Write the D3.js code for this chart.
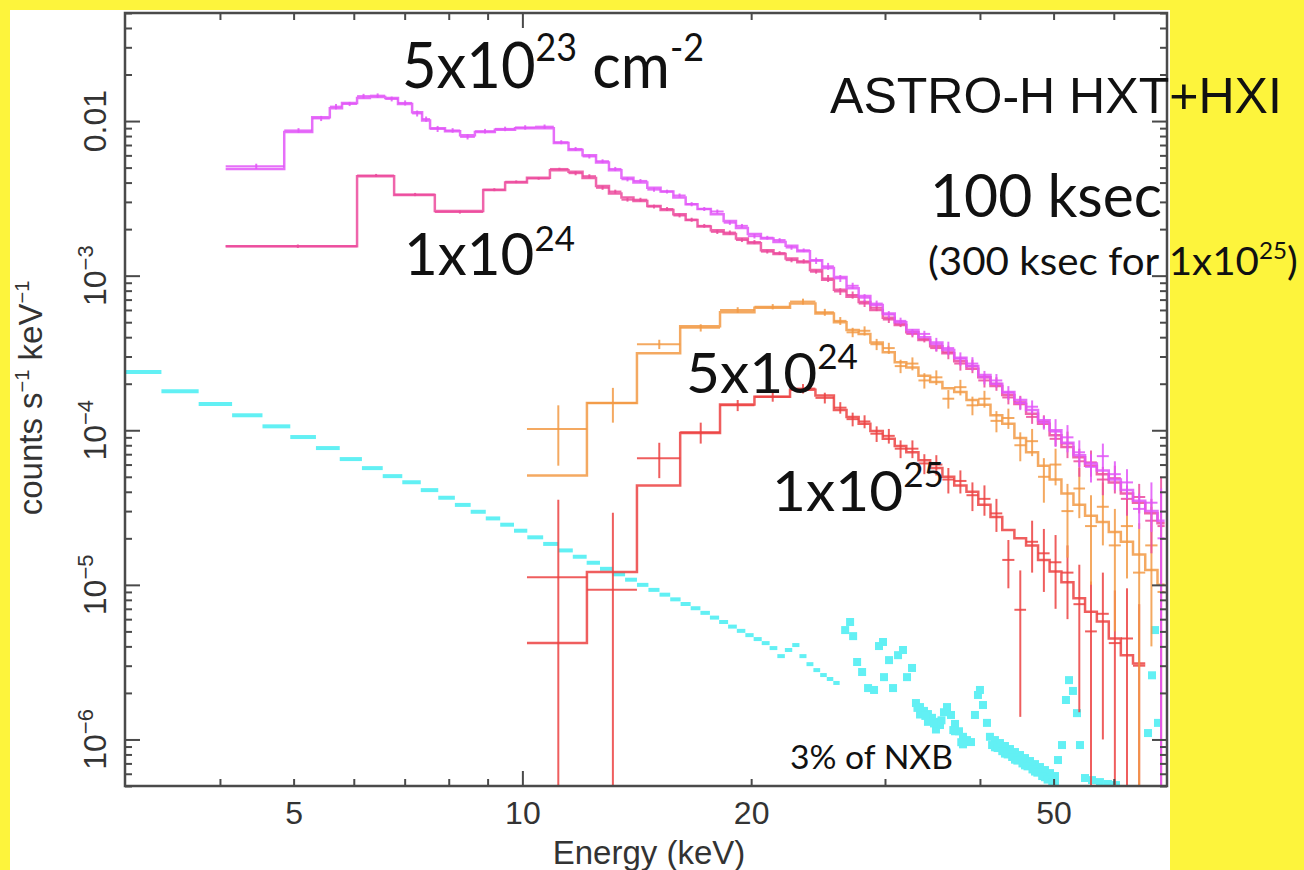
<!DOCTYPE html>
<html>
<head>
<meta charset="utf-8">
<script src="https://cdn.jsdelivr.net/npm/d3@7"></script>
<style>
  body { margin: 0; background: #fdf43c; }
  svg { display: block; }
</style>
</head>
<body>
<svg id="chart" width="1304" height="870"></svg>
<script>
// ---- data (energy in keV, rate in counts/s/keV) ----
var magEdges = [4.07, 4.86, 5.29, 5.58, 5.79, 6.06, 6.30, 6.60, 6.86, 7.16, 7.38, 7.56, 7.91, 8.28, 8.66, 9.20, 9.78, 10.39, 11.0,
  11.5, 12.0, 12.5, 13.0, 13.5, 14.0, 14.6, 15.2, 15.8, 16.4, 17.0, 17.7, 18.4, 19.1, 19.8, 20.6, 21.4, 22.2, 23.0, 23.9, 24.8,
  25.7, 26.7, 27.7, 28.7, 29.8, 30.9, 32.0, 33.2, 34.4, 35.7, 37.0, 38.4, 39.8, 41.3, 42.8, 44.4, 46.0, 47.7, 49.4, 51.2, 53.1,
  55.0, 57.0, 59.1, 61.3, 63.6, 66.0, 68.5, 70.0];
var magModel = [0.0049, 0.0085, 0.0106, 0.0121, 0.0131, 0.0141, 0.0143, 0.0141, 0.0129, 0.0114, 0.0101, 0.0090, 0.0086, 0.0081, 0.0085, 0.0088, 0.0090, 0.0090,
  0.0072, 0.0065, 0.0060, 0.0054, 0.0048, 0.0043, 0.0040, 0.0037, 0.0035, 0.0032, 0.0029, 0.0027, 0.0025, 0.00226, 0.00203, 0.00186, 0.00174, 0.00165, 0.00156, 0.00144,
  0.00126, 0.00112, 0.00098, 0.00083, 0.00074, 0.000645, 0.00057, 0.00050, 0.000445, 0.00040, 0.00037, 0.00033, 0.000295, 0.00026, 0.000228, 0.00020, 0.000177, 0.000157,
  0.000135, 0.000116, 0.000100, 0.000083, 0.000069, 0.000061, 0.000055, 0.000048, 0.000041, 0.000035, 0.000030, 0.000026];
var magData = [0.0051, 0.0087, 0.0104, 0.0124, 0.0129, 0.0145, 0.0146, 0.0139, 0.0131, 0.0112, 0.0103, 0.0089, 0.0087, 0.0079, 0.0086, 0.0089, 0.0091, 0.0092,
  0.0073, 0.0066, 0.0059, 0.0055, 0.0049, 0.0042, 0.0041, 0.0036, 0.0035, 0.0033, 0.0029, 0.0027, 0.0026, 0.0022, 0.0021, 0.0018, 0.00176, 0.00170, 0.00152, 0.00146,
  0.00125, 0.00115, 0.00096, 0.00086, 0.00072, 0.00066, 0.00056, 0.00051, 0.00043, 0.00042, 0.00036, 0.00034, 0.00029, 0.00027, 0.00022, 0.00021, 0.000175, 0.000150,
  0.000142, 0.000112, 0.000098, 0.000090, 0.000072, 0.000058, 0.000068, 0.000052, 0.000046, 0.000031, 0.000034, 0.000020];
var magErr = [0.0002, 0.0003, 0.0004, 0.0005, 0.0004, 0.0005, 0.0005, 0.0005, 0.0005, 0.0005, 0.0004, 0.0004, 0.0003, 0.0003, 0.0003, 0.0003, 0.0003, 0.0003,
  0.00022, 0.0002, 0.00018, 0.00016, 0.00015, 0.00013, 0.00012, 0.00011, 0.0001, 0.0001, 0.00009, 0.00008, 0.00008, 0.00007, 0.00006, 0.00006, 0.00005, 0.00005, 0.00005, 0.00004,
  0.00006, 0.00006, 0.00005, 0.00004, 0.00004, 0.00003, 0.00003, 0.000025, 0.000022, 0.00002, 0.000036, 0.000034, 0.000029, 0.000027, 0.000022, 0.000021, 0.000018, 0.000015,
  0.000014, 0.000011, 0.00002, 0.000018, 0.000014, 0.000012, 0.000014, 0.000011, 0.00001, 0.000008, 0.000012, 0.000022];

var pinkEdges = [4.07, 6.06, 6.78, 7.67, 8.88, 9.49, 10.14, 10.87, 11.5, 12.0, 12.5, 13.0, 13.5, 14.0, 14.6, 15.2, 15.8, 16.4, 17.0,
  17.7, 18.4, 19.1, 19.8, 20.6, 21.4, 22.2, 23.0, 23.9, 24.8, 25.7, 26.7, 27.7, 28.7, 29.8, 30.9, 32.0, 33.2, 34.4, 35.7, 37.0,
  38.4, 39.8, 41.3, 42.8, 44.4, 46.0, 47.7, 49.4, 51.2, 53.1, 55.0, 57.0, 59.1, 61.3, 63.6, 66.0, 68.5, 70.0];
var pinkModel = [0.00155, 0.00440, 0.00332, 0.00262, 0.00358, 0.0040, 0.0043, 0.0048,
  0.0047, 0.00428, 0.0038, 0.0034, 0.0032, 0.00304, 0.00282, 0.00266, 0.0025, 0.00229, 0.00208, 0.00197, 0.00186, 0.00174, 0.00162, 0.00146,
  0.00138, 0.00129, 0.00122, 0.00109, 0.00094, 0.00081, 0.00073, 0.000675, 0.0006, 0.000535, 0.00048, 0.00043, 0.000383, 0.00035, 0.000315,
  0.00028, 0.00025, 0.00022, 0.000193, 0.000169, 0.000148, 0.000128, 0.00011, 0.000093, 0.000078, 0.000067, 0.000059, 0.000052, 0.000046,
  0.000039, 0.000034, 0.000029, 0.000025];
var pinkData = [0.00155, 0.00445, 0.00335, 0.00258, 0.0036, 0.00405, 0.00425, 0.0049,
  0.0046, 0.0044, 0.0037, 0.0035, 0.0031, 0.0031, 0.0028, 0.0027, 0.00245, 0.0023, 0.0021, 0.00192, 0.0019, 0.0017, 0.00165, 0.00143,
  0.0014, 0.00126, 0.00124, 0.00106, 0.00096, 0.00079, 0.00075, 0.00066, 0.00062, 0.00052, 0.00049, 0.00042, 0.00039, 0.00034, 0.00032,
  0.00027, 0.00026, 0.00021, 0.0002, 0.000163, 0.000152, 0.000122, 0.000114, 0.000088, 0.000082, 0.000063, 0.000062, 0.000048, 0.000049,
  0.000036, 0.000037, 0.000026, 0.000024];
var pinkErr = [0.00004, 0.0001, 0.00008, 0.00006, 0.00008, 0.00008, 0.00008, 0.00009,
  0.00014, 0.00013, 0.00011, 0.0001, 0.00009, 0.00009, 0.00008, 0.00008, 0.00007, 0.00007, 0.00006, 0.00006, 0.00006, 0.00005, 0.00005, 0.00004,
  0.00004, 0.00004, 0.00004, 0.00003, 0.00005, 0.00004, 0.00004, 0.000033, 0.00003, 0.000026, 0.000025, 0.000021, 0.00002, 0.000017, 0.000032,
  0.000027, 0.000026, 0.000021, 0.00002, 0.000016, 0.000015, 0.000012, 0.000011, 0.000009, 0.000016, 0.000013, 0.000012, 0.00001, 0.00001,
  0.000008, 0.000008, 0.00001, 0.000026];

var orangeEdges = [10.14, 12.16, 14.15, 16.13, 18.2, 20.2, 22.5, 24.3, 25.7, 26.7, 27.7, 28.7, 29.8, 30.9, 32.0, 33.2, 34.4, 35.7, 37.0,
  38.4, 39.8, 41.3, 42.8, 44.4, 46.0, 47.7, 49.4, 51.2, 53.1, 55.0, 57.0, 59.1, 61.3, 63.6, 66.0, 68.5, 70.0];
var orangeModel = [5.1e-5, 1.5e-4, 3.15e-4, 4.7e-4, 5.8e-4, 6.2e-4, 6.6e-4, 5.7e-4,
  5.0e-4, 4.45e-4, 4.2e-4, 3.7e-4, 3.2e-4, 2.75e-4, 2.55e-4, 2.25e-4, 2.05e-4, 1.87e-4, 1.77e-4, 1.57e-4, 1.46e-4, 1.25e-4,
  1.1e-4, 8.9e-5, 7.2e-5, 5.9e-5, 4.8e-5, 3.9e-5, 3.3e-5, 2.8e-5, 2.55e-5, 2.2e-5, 1.9e-5, 1.57e-5, 1.25e-5, 1.0e-5];
var orangeData = [1.02e-4, 1.5e-4, 3.6e-4, 4.6e-4, 6.0e-4, 6.3e-4, 6.8e-4, 5.8e-4,
  5.1e-4, 4.3e-4, 4.4e-4, 3.6e-4, 3.4e-4, 2.6e-4, 2.7e-4, 2.1e-4, 2.2e-4, 1.6e-4, 1.9e-4, 1.45e-4, 1.6e-4, 1.15e-4,
  1.2e-4, 8.0e-5, 8.5e-5, 5.0e-5, 6.0e-5, 3.0e-5, 4.2e-5, 2.4e-5, 3.2e-5, 1.8e-5, 2.4e-5, 1.2e-5, 1.8e-5, 9e-6];
var orangeErr = [4.3e-5, 3.8e-5, 2.5e-5, 2.5e-5, 2.5e-5, 2.5e-5, 3.0e-5, 3.0e-5,
  3e-5, 3e-5, 3e-5, 3e-5, 2.8e-5, 2.6e-5, 2.6e-5, 2.4e-5, 2.4e-5, 2.2e-5, 2.2e-5, 2.0e-5, 2.0e-5, 1.8e-5,
  1.8e-5, 1.7e-5, 1.7e-5, 1.6e-5, 1.6e-5, 1.5e-5, 1.5e-5, 1.4e-5, 1.4e-5, 1.3e-5, 1.3e-5, 1.3e-5, 1.4e-5, 1.5e-5];

var redEdges = [10.14, 12.16, 14.15, 16.13, 18.2, 20.2, 22.5, 24.3, 25.7, 26.7, 27.7, 28.7, 29.8, 30.9, 32.0, 33.2, 34.4, 35.7, 37.0,
  38.4, 39.8, 41.3, 42.8, 44.4, 46.0, 47.7, 49.4, 51.2, 53.1, 55.0, 57.0, 59.1, 61.3, 63.6, 66.0];
var redModel = [4.2e-6, 1.21e-5, 4.4e-5, 9.6e-5, 1.47e-4, 1.65e-4, 1.83e-4, 1.68e-4,
  1.35e-4, 1.22e-4, 1.1e-4, 9.9e-5, 8.8e-5, 7.9e-5, 7.2e-5, 6.4e-5, 5.7e-5, 5.0e-5, 4.4e-5, 4.0e-5, 3.3e-5,
  2.75e-5, 2.26e-5, 2.0e-5, 1.8e-5, 1.45e-5, 1.22e-5, 1.04e-5, 8.2e-6, 6.7e-6, 5.8e-6, 4.5e-6, 3.5e-6, 3.1e-6];
var redData = [1.12e-5, 9.3e-6, 6.6e-5, 9.7e-5, 1.45e-4, 1.65e-4, 1.86e-4, 1.62e-4,
  1.40e-4, 1.18e-4, 1.14e-4, 9.5e-5, 9.2e-5, 7.6e-5, 7.6e-5, 6.1e-5, 6.0e-5, 4.8e-5, 4.7e-5, 3.8e-5, 3.6e-5,
  2.9e-5, 1.45e-5, 6.9e-6, 1.9e-5, 1.6e-5, 1.4e-5, 1.2e-5, 7.5e-6, 5e-6, 6.5e-6, 4.2e-6, 4.5e-6, 3.0e-6];
var redErr = [2.43e-5, 2.0e-5, 1.7e-5, 1.5e-5, 1.2e-5, 1.2e-5, 1.3e-5, 1.3e-5,
  1.2e-5, 1.2e-5, 1.1e-5, 1.1e-5, 1.0e-5, 1.0e-5, 1.0e-5, 9e-6, 9e-6, 9e-6, 8e-6, 8e-6, 8e-6,
  7e-6, 5e-6, 5.5e-6, 7e-6, 7e-6, 7e-6, 6e-6, 6e-6, 5.5e-6, 5.5e-6, 5e-6, 5e-6, 4.5e-6];

// 3% of NXB
var nxbEdges = [2.95, 3.35, 3.75, 4.15, 4.55, 4.95, 5.35, 5.75, 6.15, 6.55, 6.95, 7.35, 7.75, 8.15, 8.55, 8.95, 9.35, 9.75, 10.15,
  10.65, 11.15, 11.65, 12.15, 12.65, 13.15, 13.65, 14.15, 14.65, 15.15, 15.65, 16.15, 16.65, 17.15, 17.65, 18.15, 18.65, 19.15,
  19.65, 20.15, 20.65, 21.15, 21.65, 22.15, 22.65, 23.15, 23.65, 24.15, 24.65, 25.15, 25.65, 26.15];
var nxbRate = [2.38e-4, 1.79e-4, 1.48e-4, 1.25e-4, 1.06e-4, 9.04e-5, 7.67e-5, 6.51e-5, 5.69e-5, 5.05e-5, 4.61e-5, 4.10e-5, 3.66e-5,
  3.29e-5, 2.97e-5, 2.69e-5, 2.45e-5, 2.24e-5, 2.03e-5, 1.84e-5, 1.67e-5, 1.52e-5, 1.39e-5, 1.27e-5, 1.17e-5, 1.08e-5, 1.00e-5,
  9.28e-6, 8.64e-6, 8.06e-6, 7.52e-6, 7.06e-6, 6.59e-6, 6.14e-6, 5.75e-6, 5.37e-6, 5.04e-6, 4.73e-6, 4.46e-6, 4.20e-6, 3.90e-6,
  3.46e-6, 3.79e-6, 4.08e-6, 3.46e-6, 3.07e-6, 2.81e-6, 2.61e-6, 2.46e-6, 2.32e-6];
var nxbTailE = [26.59, 26.99, 27.24, 27.57, 27.99, 28.50, 29.02, 29.46, 29.82, 29.91, 30.37, 30.74, 31.21, 31.68, 32.07, 32.56,
  32.95, 33.36, 33.76, 34.17, 34.59, 35.01, 35.44, 35.87, 36.20, 36.64, 37.09, 37.54, 38.00, 38.46, 38.93, 39.40, 39.76, 40.00,
  40.37, 40.86, 41.23, 41.86, 42.50, 43.15, 43.81, 44.48, 45.16, 45.85, 46.55, 47.26, 47.98, 48.71, 49.46, 50.21, 50.67, 51.29,
  51.91, 52.39, 53.02, 53.67, 54.16, 54.99, 56.17, 57.54, 58.95, 60.40, 66.56, 67.37, 67.98, 68.60,
  33.36, 34.17, 35.01, 37.09, 38.00, 41.86, 43.15, 44.48, 45.85, 47.26, 48.71, 50.21,
  33.1, 33.9, 34.8, 35.6, 36.9, 37.8, 41.5, 42.2, 42.8, 43.5, 44.1, 44.8, 45.5, 46.2, 46.9, 47.6, 48.3, 49.1, 49.8];
var nxbTailRate = [5.10e-6, 5.75e-6, 4.66e-6, 3.17e-6, 2.73e-6, 2.15e-6, 2.09e-6, 4.02e-6, 4.27e-6, 2.53e-6, 3.26e-6, 2.15e-6,
  3.51e-6, 3.79e-6, 2.53e-6, 2.90e-6, 1.72e-6, 1.62e-6, 1.53e-6, 1.46e-6, 1.38e-6, 1.30e-6, 1.24e-6, 1.50e-6, 1.62e-6, 1.44e-6,
  1.26e-6, 1.13e-6, 1.04e-6, 9.91e-7, 9.62e-7, 1.44e-6, 1.94e-6, 2.09e-6, 1.67e-6, 1.28e-6, 1.04e-6, 9.91e-7, 9.48e-7, 9.07e-7,
  8.67e-7, 8.29e-7, 7.93e-7, 7.58e-7, 7.25e-7, 6.93e-7, 6.63e-7, 6.34e-7, 6.06e-7, 5.80e-7, 7.36e-7, 9.20e-7, 1.80e-6, 2.42e-6,
  2.06e-6, 1.48e-6, 9.20e-7, 5.63e-7, 5.46e-7, 5.30e-7, 5.15e-7, 5.07e-7, 1.10e-6, 2.60e-6, 5.10e-6, 1.28e-6,
  1.45e-6, 1.30e-6, 1.16e-6, 1.13e-6, 9.3e-7, 8.9e-7, 8.1e-7, 7.4e-7, 6.8e-7, 6.2e-7, 5.7e-7, 5.3e-7,
  1.60e-6, 1.42e-6, 1.27e-6, 1.33e-6, 1.15e-6, 9.6e-7, 9.2e-7, 8.8e-7, 8.4e-7, 8.0e-7, 7.7e-7, 7.3e-7, 7.0e-7, 6.7e-7, 6.4e-7,
  6.1e-7, 5.8e-7, 5.5e-7, 5.3e-7];

// ticks
var xMinorTicks = [4, 5, 6, 7, 8, 9, 20, 30, 40, 50, 60];
var xMajorTicks = [10];
var xLabelTicks = [5, 10, 20, 50];
var yMajorTicks = [1e-6, 1e-5, 1e-4, 1e-3, 0.01];
var yLabelBase = ["10", "10", "10", "10", "0.01"];
var yLabelExp = ["\u22126", "\u22125", "\u22124", "\u22123", ""];

(function () {
  // ---- layout ----
  var width = 1304, height = 870;
  var pLeft = 125, pRight = 1167, pTop = 13, pBottom = 786;
  var svg = d3.select("#chart");

  svg.append("rect").attr("width", width).attr("height", height).attr("fill", "#fdf43c");
  svg.append("rect").attr("x", 10).attr("y", 10).attr("width", 1160).attr("height", 860).attr("fill", "#ffffff");

  var x = d3.scaleLog().domain([3, 70.5]).range([pLeft, pRight]);
  var y = d3.scaleLog().domain([5e-7, 0.05]).range([pBottom, pTop]);

  svg.append("clipPath").attr("id", "plotclip")
    .append("rect").attr("x", pLeft).attr("y", pTop).attr("width", pRight - pLeft).attr("height", pBottom - pTop);
  var plot = svg.append("g").attr("clip-path", "url(#plotclip)");

  // NXB: little horizontal bins and dots
  var cyan = "#62f0f4";
  plot.append("g").selectAll("line")
    .data(nxbRate.map(function (v, i) { return {lo: nxbEdges[i], hi: nxbEdges[i + 1], v: v}; }))
    .join("line")
    .attr("x1", function (d) { return x(d.lo); })
    .attr("x2", function (d) { return x(d.hi); })
    .attr("y1", function (d) { return y(d.v); })
    .attr("y2", function (d) { return y(d.v); })
    .attr("stroke", cyan).attr("stroke-width", 4);
  plot.append("g").selectAll("rect")
    .data(nxbTailE.map(function (e, i) { return {e: e, v: nxbTailRate[i]}; }))
    .join("rect")
    .attr("x", function (d) { return x(d.e) - 4; })
    .attr("y", function (d) { return y(d.v) - 4; })
    .attr("width", 8).attr("height", 8)
    .attr("fill", cyan);

  function drawSpectrum(edges, model, obs, err, color) {
    var g = plot.append("g").attr("stroke", color).attr("fill", "none").attr("stroke-opacity", 0.85);
    var pts = model.map(function (m, i) { return {e: edges[i], v: m}; });
    pts.push({e: edges[edges.length - 1], v: model[model.length - 1]});
    var step = d3.line()
      .x(function (d) { return x(d.e); })
      .y(function (d) { return y(d.v); })
      .curve(d3.curveStepAfter);
    g.append("path").attr("d", step(pts)).attr("stroke-width", 2.5);

    var bins = obs.map(function (d, i) { return {lo: edges[i], hi: edges[i + 1], d: d, s: err[i]}; });
    g.selectAll("line.h").data(bins).join("line").attr("class", "h")
      .attr("x1", function (b) { return x(b.lo); })
      .attr("x2", function (b) { return x(b.hi); })
      .attr("y1", function (b) { return y(b.d); })
      .attr("y2", function (b) { return y(b.d); })
      .attr("stroke-width", 2);
    g.selectAll("line.v").data(bins).join("line").attr("class", "v")
      .attr("x1", function (b) { return x((b.lo + b.hi) / 2); })
      .attr("x2", function (b) { return x((b.lo + b.hi) / 2); })
      .attr("y1", function (b) { return y(b.d + b.s); })
      .attr("y2", function (b) { return b.d - b.s > 0 ? y(b.d - b.s) : pBottom + 20; })
      .attr("stroke-width", 2);
  }

  drawSpectrum(redEdges, redModel, redData, redErr, "#ec4242");
  drawSpectrum(orangeEdges, orangeModel, orangeData, orangeErr, "#f29a45");
  drawSpectrum(pinkEdges, pinkModel, pinkData, pinkErr, "#ec4a9c");
  drawSpectrum(magEdges, magModel, magData, magErr, "#e256f8");

  // ---- axes ----
  var axisFont = "'Liberation Sans', Arial, Helvetica, sans-serif";
  function styleAxis(g) {
    g.select(".domain").remove();
    g.selectAll(".tick line").attr("stroke", "#4a4a4a").attr("stroke-width", 2);
    g.selectAll(".tick text").attr("fill", "#333").attr("font-size", 32).attr("font-family", axisFont);
  }

  var yMinorTicks = [];
  for (var n = -7; n <= -2; n++) {
    for (var k = 2; k <= 9; k++) {
      var v = k * Math.pow(10, n);
      if (v >= 5e-7 && v <= 0.05) yMinorTicks.push(v);
    }
  }
  var blank = function () { return ""; };

  svg.append("g").attr("transform", "translate(0," + pBottom + ")")
    .call(d3.axisBottom(x).tickValues(xMinorTicks).tickSize(-7).tickPadding(15)
      .tickFormat(function (d) { return xLabelTicks.indexOf(d) >= 0 ? String(d) : ""; }))
    .call(styleAxis);
  svg.append("g").attr("transform", "translate(0," + pBottom + ")")
    .call(d3.axisBottom(x).tickValues(xMajorTicks).tickSize(-15).tickPadding(15)
      .tickFormat(function (d) { return String(d); }))
    .call(styleAxis);
  svg.append("g").attr("transform", "translate(0," + pTop + ")")
    .call(d3.axisTop(x).tickValues(xMinorTicks).tickSize(-7).tickFormat(blank)).call(styleAxis);
  svg.append("g").attr("transform", "translate(0," + pTop + ")")
    .call(d3.axisTop(x).tickValues(xMajorTicks).tickSize(-15).tickFormat(blank)).call(styleAxis);
  svg.append("g").attr("transform", "translate(" + pLeft + ",0)")
    .call(d3.axisLeft(y).tickValues(yMinorTicks).tickSize(-7).tickFormat(blank)).call(styleAxis);
  svg.append("g").attr("transform", "translate(" + pLeft + ",0)")
    .call(d3.axisLeft(y).tickValues(yMajorTicks).tickSize(-15).tickFormat(blank)).call(styleAxis);
  svg.append("g").attr("transform", "translate(" + pRight + ",0)")
    .call(d3.axisRight(y).tickValues(yMinorTicks).tickSize(-7).tickFormat(blank)).call(styleAxis);
  svg.append("g").attr("transform", "translate(" + pRight + ",0)")
    .call(d3.axisRight(y).tickValues(yMajorTicks).tickSize(-15).tickFormat(blank)).call(styleAxis);

  svg.append("rect").attr("x", pLeft).attr("y", pTop).attr("width", pRight - pLeft).attr("height", pBottom - pTop)
    .attr("fill", "none").attr("stroke", "#4a4a4a").attr("stroke-width", 2.5);

  // rotated y tick labels
  yMajorTicks.forEach(function (v, i) {
    var t = svg.append("text")
      .attr("transform", "translate(106," + y(v) + ") rotate(-90)")
      .attr("text-anchor", "middle")
      .attr("font-family", axisFont).attr("font-size", 32).attr("fill", "#333");
    t.append("tspan").text(yLabelBase[i]);
    if (yLabelExp[i]) t.append("tspan").attr("font-size", 22).attr("dy", -13).text(yLabelExp[i]);
  });

  // axis titles
  svg.append("text").attr("x", 649).attr("y", 864).attr("text-anchor", "middle")
    .attr("font-family", axisFont).attr("font-size", 33).attr("fill", "#333")
    .text("Energy (keV)");
  var yt = svg.append("text").attr("transform", "translate(42,398) rotate(-90)").attr("text-anchor", "middle")
    .attr("font-family", axisFont).attr("font-size", 33).attr("fill", "#333");
  yt.append("tspan").text("counts s");
  yt.append("tspan").attr("font-size", 20).attr("dy", -13).text("\u22121");
  yt.append("tspan").attr("dy", 13).text(" keV");
  yt.append("tspan").attr("font-size", 20).attr("dy", -13).text("\u22121");

  // ---- annotations ----
  var annFont = "Lato, 'Open Sans', sans-serif";
  function annotate(parts, x0, yb, w, size, family) {
    var t = svg.append("text").attr("font-family", family).attr("font-size", size).attr("fill", "#111");
    var raised = false;
    parts.forEach(function (p) {
      var sp = t.append("tspan").text(p[0]);
      if (p[1]) {
        sp.attr("font-size", size * 0.6);
        if (!raised) { sp.attr("dy", -size * 0.42); raised = true; }
      } else if (raised) {
        sp.attr("dy", size * 0.42); raised = false;
      }
    });
    var bw = t.node().getBBox().width;
    t.attr("transform", "translate(" + x0 + "," + yb + ") scale(" + (w / bw) + ",1)");
  }

  annotate([["5x10", 0], ["23", 1], [" cm", 0], ["-2", 1]], 402, 88, 302, 64, annFont);
  annotate([["1x10", 0], ["24", 1]], 404, 275, 171, 58, annFont);
  annotate([["ASTRO-H HXT+HXI", 0]], 830, 113, 452, 50, axisFont);
  annotate([["100 ksec", 0]], 930, 217, 232, 60, annFont);
  annotate([["(300 ksec for 1x10", 0], ["25", 1], [")", 0]], 928, 275, 370, 38, annFont);
  annotate([["5x10", 0], ["24", 1]], 686, 393, 172, 57, annFont);
  annotate([["1x10", 0], ["25", 1]], 772, 511, 172, 57, annFont);
  annotate([["3% of NXB", 0]], 790, 769, 163, 33, annFont);
})();
</script>
</body>
</html>
